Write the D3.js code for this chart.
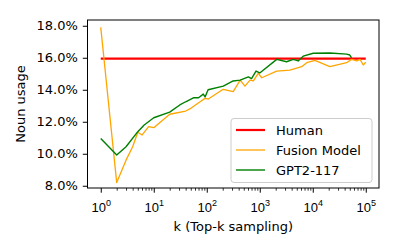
<!DOCTYPE html>
<html>
<head>
<meta charset="utf-8">
<script src="https://cdn.jsdelivr.net/npm/d3@7"></script>
<style>
  body { margin: 0; background: #fff; }
  svg { display: block; font-family: "DejaVu Sans", sans-serif; }
</style>
</head>
<body>
<div id="chart"></div>
<script>
// Noun usage (%) against k for top-k sampling
const seriesNames = ['Human', 'Fusion Model', 'GPT2-117'];
const seriesColors = ['#ff0000', '#ffa500', '#008000'];

const humanK = [1, 100000];
const humanVals = [15.95, 15.95];

const fusionK = [1, 2, 3, 4, 5, 6, 8, 10, 20, 40, 50, 75, 93, 107, 204, 316, 427, 525, 656, 758,
    937, 1090, 2080, 3700, 6170, 7700, 11000, 21000, 43600, 54000, 67500, 78000, 89800, 100000];
const fusionVals = [17.9, 8.2, 9.6, 10.44, 11.34, 11.17, 11.7, 11.63, 12.47, 12.67, 12.84, 13.25, 13.46, 13.42,
    14.03, 13.88, 14.6, 14.23, 14.6, 14.55, 15.03, 14.75, 15.17, 15.23, 15.44, 15.69, 15.84, 15.44,
    15.69, 15.9, 15.8, 15.9, 15.55, 15.73];

const gptK = [1, 2, 3, 5, 6.6, 10, 20, 31, 40, 56, 70, 86, 93, 106, 205, 315, 427, 610, 700, 850,
    1000, 2090, 3200, 4300, 5300, 6600, 10200, 21000, 43600, 50000, 54000];
const gptVals = [10.95, 9.92, 10.44, 11.38, 11.8, 12.25, 12.6, 13.05, 13.25, 13.5, 13.5, 13.73, 13.55, 14.0,
    14.23, 14.55, 14.6, 14.8, 14.7, 15.17, 15.05, 15.9, 15.75, 15.9, 15.8, 16.1, 16.28, 16.3,
    16.23, 16.17, 16.0];

const yTicks = [8, 10, 12, 14, 16, 18];
const xTicks = [1, 10, 100, 1000, 10000, 100000];

const width = 399, height = 249;
const m = { left: 87.5, right: 379, top: 20, bottom: 188 };

const svg = d3.select('#chart')
    .append('svg')
    .attr('width', width)
    .attr('height', height);

const x = d3.scaleLog()
    .domain([Math.pow(10, -0.25), Math.pow(10, 5.25)])
    .range([m.left, m.right]);

const y = d3.scaleLinear()
    .domain([7.86, 18.36])
    .range([m.bottom, m.top]);

// y axis
const yAxis = svg.append('g')
    .attr('transform', `translate(${m.left},0)`)
    .call(d3.axisLeft(y)
        .tickValues(yTicks)
        .tickFormat(d => d.toFixed(1) + '%')
        .tickSize(4.7)
        .tickPadding(5)
        .tickSizeOuter(0));
yAxis.select('.domain').remove();
yAxis.selectAll('line').attr('stroke', '#000').attr('stroke-width', 1);
yAxis.selectAll('text')
    .attr('fill', '#000')
    .style('font-size', '13px')
    .style('font-family', 'DejaVu Sans');

// x axis: minor ticks first
const minorTicks = [];
for (let e = 0; e < 5; e++) {
    for (let k = 2; k <= 9; k++) minorTicks.push(k * Math.pow(10, e));
}
const xMinor = svg.append('g')
    .attr('transform', `translate(0,${m.bottom})`)
    .call(d3.axisBottom(x).tickValues(minorTicks).tickFormat('').tickSize(2.7).tickSizeOuter(0));
xMinor.select('.domain').remove();
xMinor.selectAll('line').attr('stroke', '#000').attr('stroke-width', 0.8);

const xAxis = svg.append('g')
    .attr('transform', `translate(0,${m.bottom})`)
    .call(d3.axisBottom(x).tickValues(xTicks).tickFormat('').tickSize(4.7).tickSizeOuter(0));
xAxis.select('.domain').remove();
xAxis.selectAll('line').attr('stroke', '#000').attr('stroke-width', 1);

// tick labels with superscript exponents
const xLab = xAxis.selectAll('.tick').append('text')
    .attr('fill', '#000')
    .attr('y', 23.5)
    .attr('text-anchor', 'middle')
    .style('font-size', '13px');
xLab.append('tspan').text('10');
xLab.append('tspan')
    .attr('dy', -6)
    .style('font-size', '9px')
    .text(d => Math.round(Math.log10(d)));

// lines
const line = d3.line()
    .x(d => x(d[0]))
    .y(d => y(d[1]));

const plot = svg.append('g');
const series = [
    { k: humanK, v: humanVals, w: 2.2 },
    { k: fusionK, v: fusionVals, w: 1.3 },
    { k: gptK, v: gptVals, w: 1.4 }
];
series.forEach((s, i) => {
    plot.append('path')
        .datum(s.k.map((k, j) => [k, s.v[j]]))
        .attr('fill', 'none')
        .attr('stroke', seriesColors[i])
        .attr('stroke-width', s.w)
        .attr('stroke-linejoin', 'round')
        .attr('d', line);
});

// frame
svg.append('rect')
    .attr('x', m.left)
    .attr('y', m.top)
    .attr('width', m.right - m.left)
    .attr('height', m.bottom - m.top)
    .attr('fill', 'none')
    .attr('stroke', '#000')
    .attr('stroke-width', 1);

// axis labels
svg.append('text')
    .attr('x', (m.left + m.right) / 2)
    .attr('y', 231)
    .attr('text-anchor', 'middle')
    .style('font-size', '13px')
    .text('k (Top-k sampling)');

svg.append('text')
    .attr('transform', `translate(25,${(m.top + m.bottom) / 2}) rotate(-90)`)
    .attr('text-anchor', 'middle')
    .style('font-size', '13px')
    .text('Noun usage');

// legend
const legend = svg.append('g');
legend.append('rect')
    .attr('x', 231)
    .attr('y', 118.5)
    .attr('width', 141)
    .attr('height', 64)
    .attr('rx', 3)
    .attr('fill', '#fff')
    .attr('fill-opacity', 0.8)
    .attr('stroke', '#cccccc')
    .attr('stroke-width', 1);

seriesNames.forEach((name, i) => {
    const yy = 130 + i * 20;
    legend.append('line')
        .attr('x1', 236).attr('x2', 265)
        .attr('y1', yy).attr('y2', yy)
        .attr('stroke', seriesColors[i])
        .attr('stroke-width', series[i].w);
    legend.append('text')
        .attr('x', 276)
        .attr('y', yy)
        .attr('dy', '0.35em')
        .style('font-size', '13px')
        .text(name);
});
</script>
</body>
</html>
